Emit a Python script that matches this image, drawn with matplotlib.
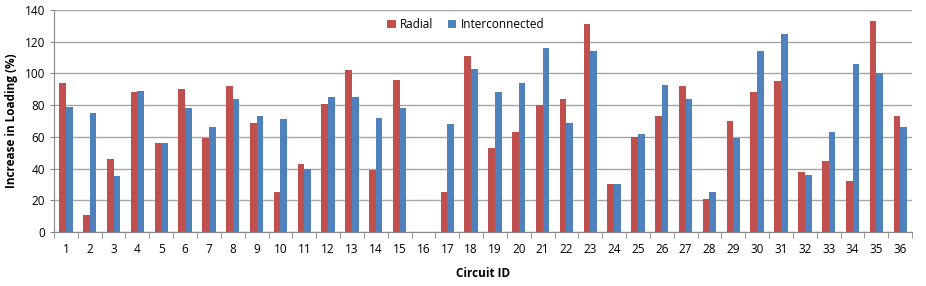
import numpy as np
import matplotlib.pyplot as plt

circuits = [str(i) for i in range(1, 37)]
radial = [94, 11, 46, 88, 56, 90, 59, 92, 69, 25, 43, 81, 102, 39, 96, 0, 25, 111,
          53, 63, 80, 84, 131, 30, 60, 73, 92, 21, 70, 88, 95, 38, 45, 32, 133, 73]
interconnected = [79, 75, 35, 89, 56, 78, 66, 84, 73, 71, 40, 85, 85, 72, 78, 0, 68, 103,
                  88, 94, 116, 69, 114, 30, 62, 93, 84, 25, 59, 114, 125, 36, 63, 106, 100, 66]

plt.rcParams['font.family'] = ['Open Sans', 'DejaVu Sans']

fig = plt.figure(figsize=(9.26, 2.86), dpi=100)
ax = fig.add_axes([0.0583, 0.189, 0.9267, 0.776])

x = np.arange(len(circuits))
w = 0.28
ax.bar(x - w/2, radial, w, color='#C0504D', label='Radial', zorder=3)
ax.bar(x + w/2, interconnected, w, color='#4F81BD', label='Interconnected', zorder=3)

ax.set_xlim(-0.5, len(circuits) - 0.5)
ax.set_ylim(0, 140)
ax.set_yticks(range(0, 141, 20))
ax.yaxis.grid(True, color='#A6A6A6', linewidth=1, zorder=0)

ax.set_xticks(x)
ax.set_xticklabels(circuits, fontsize=8.5)
ax.set_xticks(np.arange(-0.5, len(circuits), 1), minor=True)
ax.tick_params(axis='x', which='major', length=0, pad=8)
ax.tick_params(axis='x', which='minor', length=4, color='#888888')
ax.tick_params(axis='y', length=3, color='#888888', labelsize=8.5)

for s in ['top', 'right']:
    ax.spines[s].set_visible(False)
for s in ['left', 'bottom']:
    ax.spines[s].set_color('#888888')

ax.set_xlabel('Circuit ID', fontsize=8.5, fontweight='bold', labelpad=8)
ax.set_ylabel('Increase in Loading (%)', fontsize=8.5, fontweight='bold', labelpad=5)

ax.legend(loc='center', bbox_to_anchor=(0.48, 0.935), ncol=2, frameon=False,
          fontsize=8.5, handlelength=0.7, handleheight=0.7, handletextpad=0.4,
          columnspacing=1.2)

fig.savefig('out.png', dpi=100)
